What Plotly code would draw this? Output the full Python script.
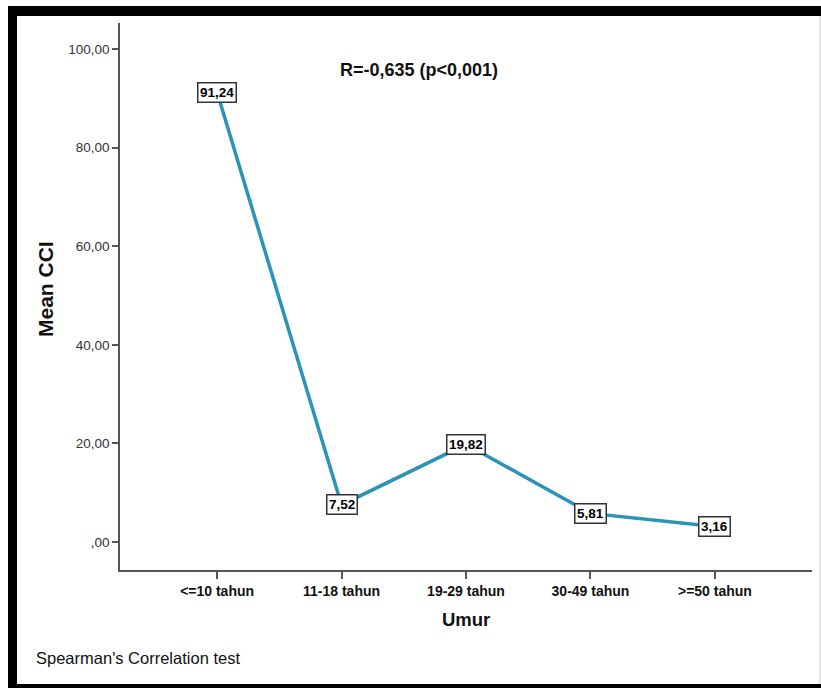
import plotly.graph_objects as go

categories = ["<=10 tahun", "11-18 tahun", "19-29 tahun", "30-49 tahun", ">=50 tahun"]
mean_cci = [91.24, 7.52, 19.82, 5.81, 3.16]
y_ticks = [0, 20, 40, 60, 80, 100]
y_tick_labels = [",00", "20,00", "40,00", "60,00", "80,00", "100,00"]

W, H = 821, 688
L, R, T, B = 120, 812, 23, 570  # plot area in pixels


def px(x):
    return (x - L) / (R - L)


def py(y):
    return (B - y) / (B - T)


def fmt(v):
    return f"{v:.2f}".replace(".", ",")


FONT = "Liberation Sans, Arial, sans-serif"
xs = list(range(len(categories)))

fig = go.Figure()
fig.add_trace(go.Scatter(
    x=xs, y=mean_cci, mode="lines",
    line=dict(color="#2b93b6", width=3.5),
    hoverinfo="skip", showlegend=False,
))

annotations = []
for xi, v in zip(xs, mean_cci):
    annotations.append(dict(
        x=xi, y=v, xref="x", yref="y", text=f"<b>{fmt(v)}</b>",
        xanchor="center", yanchor="middle",
        showarrow=False, font=dict(family=FONT, size=13.5, color="black"),
        bgcolor="white", bordercolor="#333", borderwidth=1.5, borderpad=1.5,
    ))

annotations += [
    dict(x=px(419), y=py(70), xref="paper", yref="paper",
         xanchor="center", yanchor="middle",
         text="<b>R=-0,635 (p<0,001)</b>", showarrow=False,
         font=dict(family=FONT, size=18, color="#111")),
    dict(x=px(45), y=py(289), xref="paper", yref="paper",
         xanchor="center", yanchor="middle",
         text="<b>Mean CCI</b>", showarrow=False, textangle=-90,
         font=dict(family=FONT, size=21, color="#111")),
    dict(x=px(466), y=py(619), xref="paper", yref="paper",
         xanchor="center", yanchor="middle",
         text="<b>Umur</b>", showarrow=False,
         font=dict(family=FONT, size=18.5, color="#111")),
    dict(x=px(34), y=py(658), xref="paper", yref="paper",
         xanchor="left", yanchor="middle",
         text="Spearman's Correlation test", showarrow=False,
         font=dict(family=FONT, size=16.5, color="#111")),
]

shapes = [
    # thick black frame: top, left, bottom
    dict(type="rect", xref="paper", yref="paper", x0=px(8), x1=px(821),
         y0=py(6), y1=py(16), fillcolor="black", line=dict(width=0), layer="above"),
    dict(type="rect", xref="paper", yref="paper", x0=px(8), x1=px(17),
         y0=py(6), y1=py(688), fillcolor="black", line=dict(width=0), layer="above"),
    dict(type="rect", xref="paper", yref="paper", x0=px(8), x1=px(821),
         y0=py(684), y1=py(688), fillcolor="black", line=dict(width=0), layer="above"),
    dict(type="line", xref="paper", yref="paper", x0=px(820), x1=px(820),
         y0=py(16), y1=py(684), line=dict(color="#cccccc", width=1)),
]

fig.update_layout(
    width=W, height=H,
    margin=dict(l=L, r=W - R, t=T, b=H - B),
    paper_bgcolor="white", plot_bgcolor="white",
    font=dict(family=FONT, color="#222"),
    xaxis=dict(
        range=[-0.78, 4.78], tickvals=xs,
        ticktext=[f"<b>{c}</b>" for c in categories],
        showgrid=False, zeroline=False, showline=True, linecolor="#555", linewidth=2,
        ticks="outside", ticklen=7, tickwidth=2, tickcolor="#555",
        tickfont=dict(family=FONT, size=14, color="#111"),
        fixedrange=True,
    ),
    yaxis=dict(
        range=[-5.68, 105.3], tickvals=y_ticks, ticktext=y_tick_labels,
        showgrid=False, zeroline=False, showline=True, linecolor="#555", linewidth=1.5,
        ticks="outside", ticklen=6, tickwidth=1.5, tickcolor="#555",
        tickfont=dict(family=FONT, size=13.5, color="#333"),
        fixedrange=True,
    ),
    annotations=annotations,
    shapes=shapes,
)

fig.write_html("out.html")
